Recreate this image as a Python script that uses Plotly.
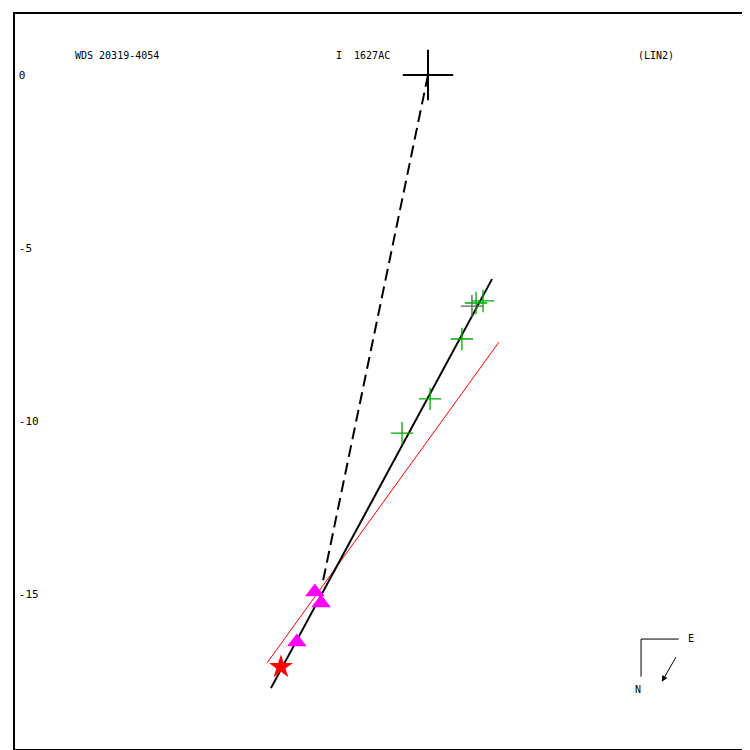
import plotly.graph_objects as go

# ---- data (arcsec, plot frame) ----
obs_x = [1.59, 1.39, 1.27, 0.98, 0.06, -0.75]
obs_y = [-6.53, -6.59, -6.68, -7.63, -9.36, -10.35]
obs_colors = ["#00aa00", "#00aa00", "#556655", "#00aa00", "#00aa00", "#00aa00"]

tri_x = [-3.27, -3.09, -3.79]
tri_y = [-14.94, -15.26, -16.39]

star_x = [-4.25]
star_y = [-17.11]

fit_x = [-4.54, 1.85]
fit_y = [-17.72, -5.90]

red_x = [-4.65, 2.05]
red_y = [-16.99, -7.72]

dash_x = [0.0, -3.04]
dash_y = [0.0, -14.65]

primary_x = [0.0]
primary_y = [0.0]

yticks = [0, -5, -10, -15]
ytick_text = ["0", "-5", "-10", "-15"]

title_left = "WDS 20319-4054"
title_mid = "I  1627AC"
title_right = "(LIN2)"

OFF = 8            # page body margin
W = H = 742
K = 34.6           # px per unit
OX, OY = 428, 75   # page pixel position of origin
# plot frame in page pixels
FL, FT, FR, FB = 15, 14, 750, 749

xr = [(FL - OX) / K, (FR - OX) / K]
yr = [(OY - FB) / K, (OY - FT) / K]

FONT = "DejaVu Sans Mono"

fig = go.Figure()

fig.add_trace(go.Scatter(x=red_x, y=red_y, mode="lines",
                         line=dict(color="red", width=1), hoverinfo="skip"))
fig.add_trace(go.Scatter(x=dash_x, y=dash_y, mode="lines",
                         line=dict(color="black", width=2, dash="12px,6px"), hoverinfo="skip"))
fig.add_trace(go.Scatter(x=fit_x, y=fit_y, mode="lines",
                         line=dict(color="black", width=2), hoverinfo="skip"))
fig.add_trace(go.Scatter(x=obs_x, y=obs_y, mode="markers",
                         marker=dict(symbol="cross-thin", size=16,
                                     line=dict(color=obs_colors, width=1.3))))
fig.add_trace(go.Scatter(x=tri_x, y=tri_y, mode="markers",
                         marker=dict(symbol="triangle-up", size=17, color="#ff00ff")))
fig.add_trace(go.Scatter(x=star_x, y=star_y, mode="markers",
                         marker=dict(symbol="star", size=18, color="red")))
fig.add_trace(go.Scatter(x=primary_x, y=primary_y, mode="markers",
                         marker=dict(symbol="cross-thin", size=36,
                                     line=dict(color="black", width=2))))

def px(x):
    return (x - OFF) / W

def py(y):
    return 1 - (y - OFF) / H

ann_font = dict(family=FONT, size=10, color="black")
annotations = [
    dict(x=px(67), y=py(50), text=title_left, xanchor="left", yanchor="middle"),
    dict(x=px(330), y=py(50), text=title_mid, xanchor="left", yanchor="middle"),
    dict(x=px(635), y=py(50), text=title_right, xanchor="left", yanchor="middle"),
    dict(x=px(685), y=py(638), text="E", xanchor="left", yanchor="middle"),
    dict(x=px(637), y=py(690), text="N", xanchor="center", yanchor="middle"),
]
for a in annotations:
    a.update(xref="paper", yref="paper", showarrow=False, font=ann_font)

# compass arrow (tail at page px (676,656), head at (661,682))
annotations.append(dict(x=px(661), y=py(682), ax=15, ay=-26,
                        xref="paper", yref="paper", axref="pixel", ayref="pixel",
                        showarrow=True, arrowhead=2, arrowsize=1.2, arrowwidth=1,
                        arrowcolor="black", text=""))

shapes = [
    dict(type="line", xref="paper", yref="paper", x0=px(640), y0=py(639), x1=px(678), y1=py(639),
         line=dict(color="black", width=1)),
    dict(type="line", xref="paper", yref="paper", x0=px(640), y0=py(639), x1=px(640), y1=py(677),
         line=dict(color="black", width=1)),
]

fig.update_layout(
    width=W, height=H,
    margin=dict(l=FL - OFF, r=OFF + W - FR, t=FT - OFF, b=OFF + H - FB, pad=0),
    paper_bgcolor="white", plot_bgcolor="white",
    showlegend=False,
    annotations=annotations,
    shapes=shapes,
    xaxis=dict(range=xr, showgrid=False, zeroline=False, showticklabels=False,
               ticks="", showline=True, mirror=True, linecolor="black", linewidth=2),
    yaxis=dict(range=yr, showgrid=False, zeroline=False, tickvals=yticks, ticktext=ytick_text,
               ticks="", ticklabelposition="inside", ticklabelstandoff=3,
               showline=True, linecolor="black",
               linewidth=2, tickfont=dict(family=FONT, size=11, color="black")),
)

fig.write_html("out.html")
